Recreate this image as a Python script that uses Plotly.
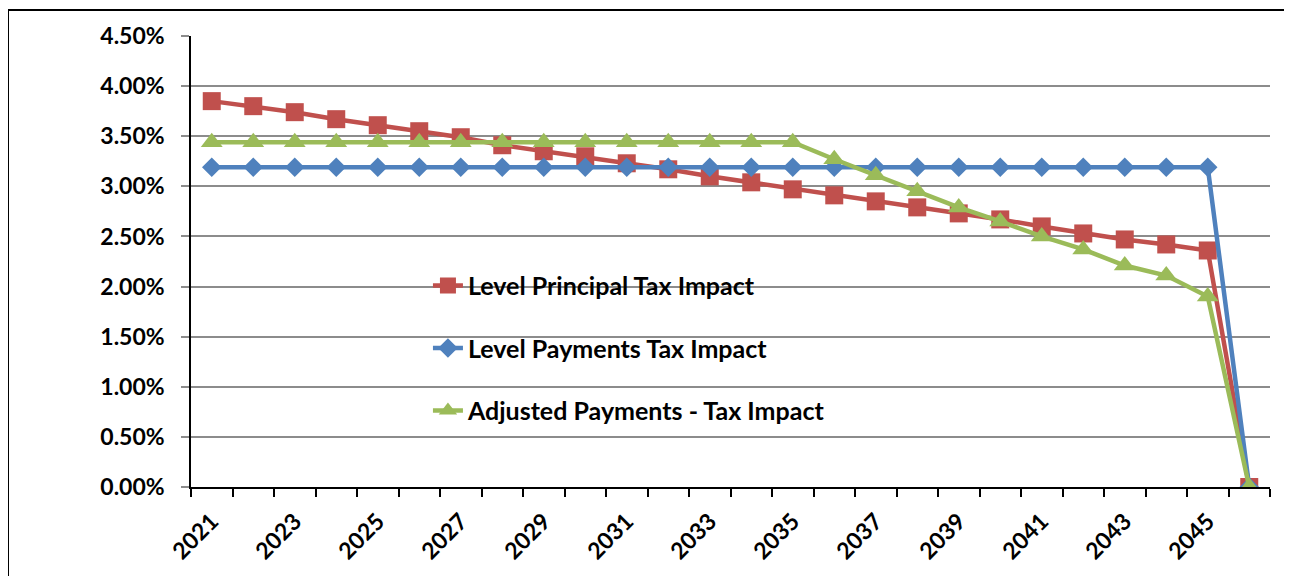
import plotly.graph_objects as go

years = [str(y) for y in range(2021, 2047)]

level_principal = [3.85, 3.80, 3.74, 3.67, 3.61, 3.55, 3.49, 3.41, 3.35, 3.30,
                   3.23, 3.17, 3.10, 3.04, 2.97, 2.91, 2.85, 2.79, 2.73, 2.67,
                   2.60, 2.53, 2.47, 2.42, 2.36, 0.00]
level_payments = [3.19] * 25 + [0.00]
adjusted_payments = [3.44] * 15 + [3.27, 3.11, 2.95, 2.79, 2.65, 2.50, 2.37,
                                   2.21, 2.11, 1.90, 0.00]

series = [
    ("Level Principal Tax Impact", level_principal, "#C0504D", "square", 18),
    ("Level Payments Tax Impact", level_payments, "#4F81BD", "diamond", 15),
    ("Adjusted Payments - Tax Impact", adjusted_payments, "#9BBB59", "triangle-up", 19),
]

FONT = "Lato"

fig = go.Figure()
for i, (name, vals, color, sym, size) in enumerate(series):
    fig.add_trace(go.Scatter(
        x=years, y=[v / 100 for v in vals], name=name, mode="lines+markers",
        line=dict(color=color, width=4.5),
        marker=dict(symbol=sym, size=size, color=color),
        legendgroup=f"g{i}",
    ))

fig.update_layout(
    width=1284, height=568,
    margin=dict(l=183, r=22, t=28, b=87),
    paper_bgcolor="white", plot_bgcolor="white",
    font=dict(family=FONT, color="black"),
    showlegend=True,
    legend=dict(
        x=0.2196, y=0.497, xanchor="left", yanchor="top",
        bgcolor="rgba(0,0,0,0)",
        font=dict(family=FONT, size=25, weight="bold", color="black"),
        tracegroupgap=27,
    ),
    xaxis=dict(
        type="category", categoryorder="array", categoryarray=years,
        range=[-0.5, 25.5],
        tickson="boundaries", ticks="outside", ticklen=8, tickcolor="black",
        tickwidth=1.5, ticklabelstep=2, tickangle=-45,
        showline=True, linecolor="black", linewidth=1.5,
        showgrid=False, ticklabelstandoff=10,
        tickfont=dict(family=FONT, size=23, weight="bold", color="black"),
    ),
    yaxis=dict(
        range=[0, 0.045], dtick=0.005, tick0=0, tickformat=".2%",
        ticks="outside", ticklen=8, tickcolor="#8c8c8c", tickwidth=2,
        showline=True, linecolor="black", linewidth=1.5,
        showgrid=True, gridcolor="#8c8c8c", gridwidth=2,
        zeroline=False, ticklabelstandoff=12,
        tickfont=dict(family=FONT, size=23, weight="bold", color="black"),
    ),
    shapes=[
        dict(type="rect", xref="paper", yref="paper",
             x0=0.129, x1=0.6555, y0=0.07, y1=0.52,
             fillcolor="white", line=dict(width=0), layer="between"),
        dict(type="line", xref="paper", yref="paper",
             x0=-0.1696, x1=1.3, y0=1.0574, y1=1.0574,
             line=dict(color="black", width=2), layer="above"),
        dict(type="line", xref="paper", yref="paper",
             x0=-0.1696, x1=-0.1696, y0=-0.3, y1=1.0574,
             line=dict(color="black", width=2), layer="above"),
    ],
)

fig.write_html("out.html")
